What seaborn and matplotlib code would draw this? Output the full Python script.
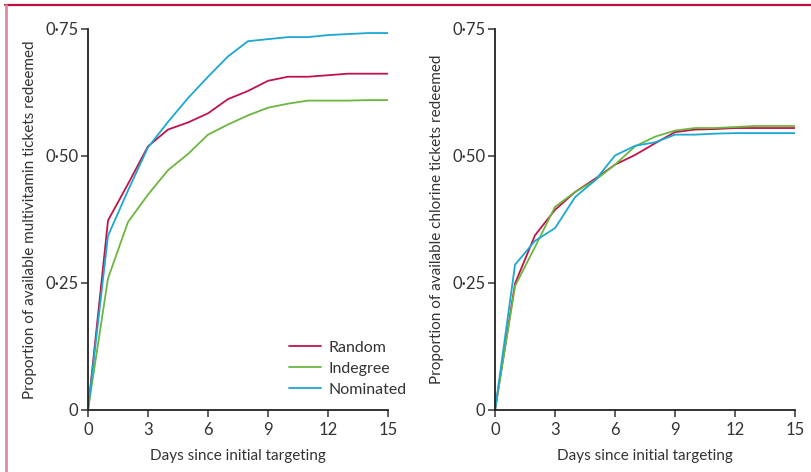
import matplotlib
matplotlib.use('Agg')
import matplotlib.pyplot as plt
from matplotlib.lines import Line2D
import numpy as np
import seaborn as sns
import pandas as pd

days = list(range(16))
groups = ['Random', 'Indegree', 'Nominated']
colors = ['#c0134a', '#6cb63f', '#1ba8d2']

# multivitamin panel
multi_random = [0, 0.373, 0.445, 0.519, 0.552, 0.566, 0.584, 0.612, 0.628, 0.648,
                0.656, 0.656, 0.659, 0.662, 0.662, 0.662]
multi_indegree = [0, 0.259, 0.370, 0.424, 0.472, 0.504, 0.542, 0.562, 0.580, 0.595,
                  0.603, 0.609, 0.609, 0.609, 0.610, 0.610]
multi_nominated = [0, 0.343, 0.432, 0.517, 0.567, 0.614, 0.656, 0.696, 0.726, 0.730,
                   0.734, 0.734, 0.738, 0.740, 0.742, 0.742]

# chlorine panel
chlor_random = [0, 0.249, 0.344, 0.394, 0.429, 0.455, 0.483, 0.502, 0.525, 0.547,
                0.552, 0.553, 0.555, 0.555, 0.555, 0.555]
chlor_indegree = [0, 0.244, 0.321, 0.400, 0.429, 0.452, 0.483, 0.519, 0.538, 0.550,
                  0.555, 0.555, 0.557, 0.559, 0.559, 0.559]
chlor_nominated = [0, 0.286, 0.333, 0.358, 0.419, 0.452, 0.501, 0.520, 0.527, 0.542,
                   0.542, 0.544, 0.545, 0.545, 0.545, 0.545]

ylabels = ['Proportion of available multivitamin tickets redeemed',
           'Proportion of available chlorine tickets redeemed']
xlabel = 'Days since initial targeting'
yticks = [0, 0.25, 0.50, 0.75]
ytick_labels = ['0', '0·25', '0·50', '0·75']
xticks = [0, 3, 6, 9, 12, 15]


def make_df(r, i, n):
    rows = []
    for g, vals in zip(groups, [r, i, n]):
        for d, v in zip(days, vals):
            rows.append({'day': d, 'value': v, 'group': g})
    return pd.DataFrame(rows)


sns.set_style('ticks')
plt.rcParams['font.family'] = ['Lato', 'DejaVu Sans']

fig = plt.figure(figsize=(8.11, 4.72), dpi=100)
ax1 = fig.add_axes([0.1085, 0.1314, 0.370, 0.8072])
ax2 = fig.add_axes([0.6104, 0.1314, 0.370, 0.8072])

dfs = [make_df(multi_random, multi_indegree, multi_nominated),
       make_df(chlor_random, chlor_indegree, chlor_nominated)]

for ax, df, yl in zip([ax1, ax2], dfs, ylabels):
    sns.lineplot(data=df, x='day', y='value', hue='group', hue_order=groups,
                 palette=colors, linewidth=1.3, ax=ax, legend=False)
    ax.set_xlim(0, 15)
    ax.set_ylim(0, 0.75)
    ax.set_xticks(xticks)
    ax.set_yticks(yticks)
    ax.set_yticklabels(ytick_labels)
    ax.set_xlabel(xlabel, fontsize=11, color='#333333', labelpad=8)
    ax.set_ylabel(yl, fontsize=11, color='#333333', labelpad=6)
    ax.tick_params(axis='both', labelsize=12, labelcolor='#333333', length=5,
                   width=1.2, direction='out', color='#444444')
    ax.tick_params(axis='y', pad=1.8)
    for s in ['top', 'right']:
        ax.spines[s].set_visible(False)
    for s in ['left', 'bottom']:
        ax.spines[s].set_linewidth(1.3)
        ax.spines[s].set_color('#222222')

handles = [Line2D([0], [0], color=c, lw=1.3) for c in colors]
leg = ax1.legend(handles, groups, loc='upper left', bbox_to_anchor=(0.67, 0.182),
                 frameon=False, fontsize=11.5, handlelength=2.0, handletextpad=0.45,
                 labelspacing=0.42, borderaxespad=0, borderpad=0)
for t in leg.get_texts():
    t.set_color('#333333')

# page frame lines
fig.add_artist(Line2D([0.006, 1.0], [0.989, 0.989], color='#c0103f', lw=1.6,
                      transform=fig.transFigure))
fig.add_artist(Line2D([0.0072, 0.0072], [0.0, 0.989], color='#e08aa0', lw=2.0,
                      transform=fig.transFigure))

fig.savefig('out.png', dpi=100)
